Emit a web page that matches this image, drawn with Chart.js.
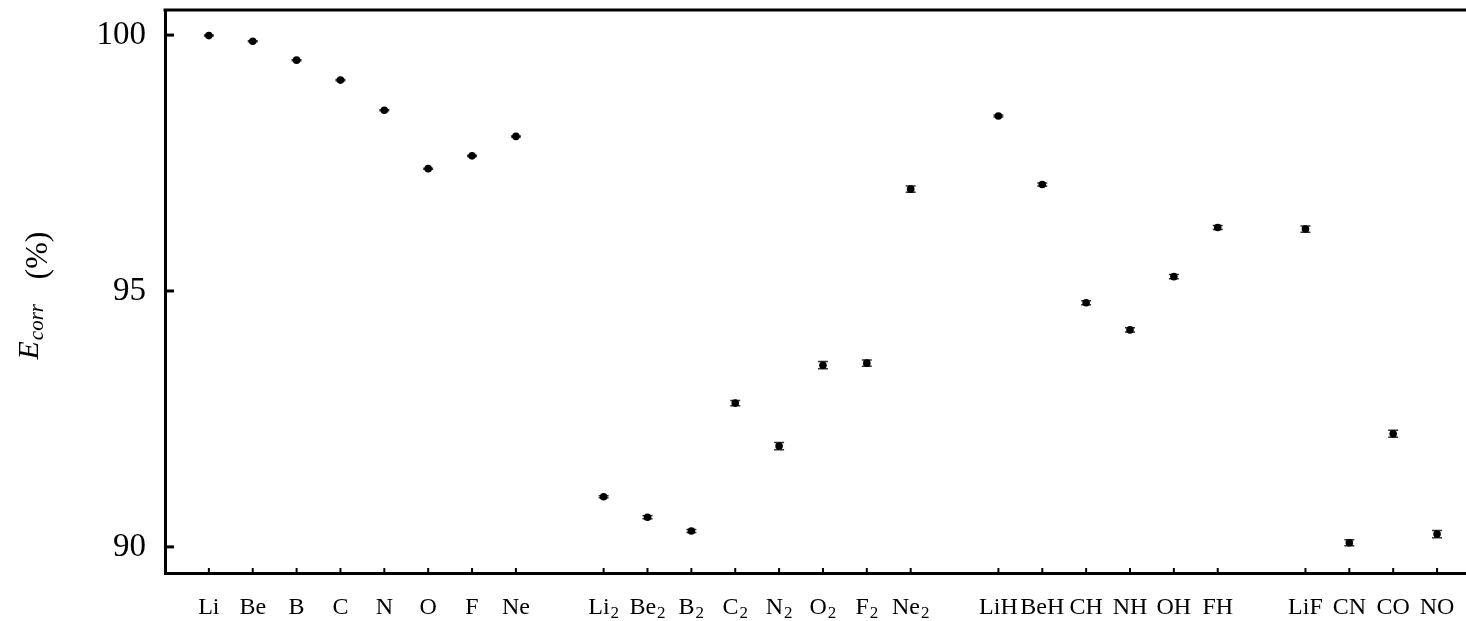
<!DOCTYPE html>
<html>
<head>
<meta charset="utf-8">
<script src="https://cdn.jsdelivr.net/npm/chart.js@4/dist/chart.umd.min.js"></script>
<style>
  html, body { margin: 0; padding: 0; background: #fff; }
</style>
</head>
<body>
<canvas id="myChart" width="1466" height="621"></canvas>
<script>
const atoms = ['Li', 'Be', 'B', 'C', 'N', 'O', 'F', 'Ne']
const atomValues = [99.99, 99.88, 99.51, 99.12, 98.53, 97.39, 97.64, 98.02]
const atomErrors = [0.01, 0.01, 0.01, 0.01, 0.01, 0.01, 0.01, 0.01]

const dimers = ['Li₂', 'Be₂', 'B₂', 'C₂', 'N₂', 'O₂', 'F₂', 'Ne₂']
const dimerValues = [90.98, 90.58, 90.31, 92.81, 91.97, 93.55, 93.59, 96.99]
const dimerErrors = [0.02, 0.03, 0.03, 0.05, 0.07, 0.07, 0.06, 0.06]

const hydrides = ['LiH', 'BeH', 'CH', 'NH', 'OH', 'FH']
const hydrideValues = [98.42, 97.08, 94.77, 94.24, 95.28, 96.24]
const hydrideErrors = [0.02, 0.03, 0.04, 0.04, 0.04, 0.04]

const others = ['LiF', 'CN', 'CO', 'NO']
const otherValues = [96.21, 90.08, 92.21, 90.25]
const otherErrors = [0.06, 0.06, 0.07, 0.07]

const yTicks = [90, 95, 100]

// lay the groups out on a linear axis, one empty slot between groups
const groups = [
  [atoms, atomValues, atomErrors],
  [dimers, dimerValues, dimerErrors],
  [hydrides, hydrideValues, hydrideErrors],
  [others, otherValues, otherErrors],
]
const points = []
const labelAt = {}
let slot = 1
groups.forEach(([names, values, errors]) => {
  names.forEach((name, i) => {
    points.push({ x: slot, y: values[i], err: errors[i] })
    labelAt[slot] = name
    slot++
  })
  slot++
})

const SERIF = '"Liberation Serif", "DejaVu Serif", serif'

const errorBars = {
  id: 'errorBars',
  beforeDatasetsDraw (chart) {
    const { ctx, scales: { x, y } } = chart
    ctx.save()
    ctx.strokeStyle = '#333'
    ctx.lineWidth = 1.5
    points.forEach(p => {
      const px = x.getPixelForValue(p.x)
      const top = y.getPixelForValue(p.y + p.err)
      const bot = y.getPixelForValue(p.y - p.err)
      ctx.beginPath()
      ctx.moveTo(px, top); ctx.lineTo(px, bot)
      ctx.moveTo(px - 5, top); ctx.lineTo(px + 5, top)
      ctx.moveTo(px - 5, bot); ctx.lineTo(px + 5, bot)
      ctx.stroke()
    })
    ctx.restore()
  }
}

// category labels with real subscripts, placed by the x scale
const drawLabel = (ctx, name, cx, base) => {
  let main = name, sub = ''
  if (name.endsWith('₂')) { main = name.slice(0, -1); sub = '2' }
  const mainFont = '24px ' + SERIF
  const subFont = '17px ' + SERIF
  ctx.font = mainFont
  const wm = ctx.measureText(main).width
  ctx.font = subFont
  const ws = sub ? ctx.measureText(sub).width + 1 : 0
  let left = cx - (wm + ws) / 2
  ctx.font = mainFont
  ctx.fillText(main, left, base)
  if (sub) {
    ctx.font = subFont
    ctx.fillText(sub, left + wm + 1, base + 4)
  }
}

const frame = {
  id: 'frame',
  afterDraw (chart) {
    const { ctx, chartArea: a, scales: { x, y } } = chart
    ctx.save()
    ctx.strokeStyle = '#000'
    ctx.fillStyle = '#000'
    ctx.lineWidth = 3
    ctx.beginPath()
    ctx.moveTo(a.left - 1.5, a.top)
    ctx.lineTo(a.right, a.top)
    ctx.stroke()
    // inward ticks
    yTicks.forEach(v => {
      const py = y.getPixelForValue(v)
      ctx.beginPath()
      ctx.moveTo(a.left, py); ctx.lineTo(a.left + 9, py)
      ctx.stroke()
    })
    ctx.lineWidth = 2
    ctx.textBaseline = 'alphabetic'
    Object.keys(labelAt).forEach(k => {
      const px = x.getPixelForValue(Number(k))
      ctx.beginPath()
      ctx.moveTo(px, a.bottom); ctx.lineTo(px, a.bottom - 5)
      ctx.stroke()
      drawLabel(ctx, labelAt[k], px, a.bottom + 41)
    })

    // y title: E_corr (%)
    ctx.translate(0, (a.top + a.bottom) / 2)
    ctx.rotate(-Math.PI / 2)
    ctx.font = 'italic 30px ' + SERIF
    const wE = ctx.measureText('E').width
    ctx.fillText('E', -68, 38)
    ctx.font = 'italic 21px ' + SERIF
    ctx.fillText('corr', -68 + wE + 1, 43)
    ctx.font = '32px ' + SERIF
    ctx.fillText('(%)', 12, 47)
    ctx.restore()
  }
}

new Chart(document.getElementById('myChart'), {
  type: 'scatter',
  data: {
    datasets: [{
      data: points,
      backgroundColor: '#000',
      borderWidth: 0,
      pointRadius: 3.8,
      pointHoverRadius: 3.8,
    }]
  },
  options: {
    responsive: false,
    animation: false,
    layout: { autoPadding: false, padding: { top: 10, right: 0, left: 0, bottom: 0 } },
    plugins: { legend: { display: false }, tooltip: { enabled: false } },
    scales: {
      x: {
        type: 'linear',
        min: 0,
        max: 29.66,
        afterBuildTicks: s => { s.ticks = Object.keys(labelAt).map(k => ({ value: Number(k) })) },
        afterFit: s => { s.height = 48; s.paddingLeft = 0; s.paddingRight = 0 },
        ticks: { display: false },
        grid: { display: false, drawTicks: false },
        border: { color: '#000', width: 3 },
      },
      y: {
        min: 89.49,
        max: 100.49,
        afterBuildTicks: s => { s.ticks = yTicks.map(v => ({ value: v })) },
        afterFit: s => { s.width = 165; s.paddingTop = 0; s.paddingBottom = 0 },
        ticks: {
          padding: 19,
          color: '#000',
          font: { family: SERIF, size: 33 },
        },
        grid: { display: false, drawTicks: false },
        border: { color: '#000', width: 3 },
      },
    },
  },
  plugins: [errorBars, frame],
})
</script>
</body>
</html>
